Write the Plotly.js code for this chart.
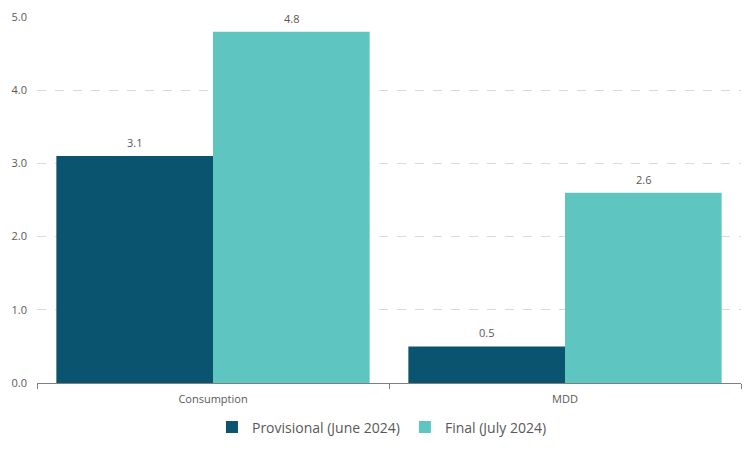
<!DOCTYPE html>
<html>
<head>
<meta charset="utf-8">
<script src="https://cdn.plot.ly/plotly-3.0.1.min.js"></script>
<style>
  html, body { margin: 0; padding: 0; background: #fff; }
  #chart { width: 756px; height: 450px; }
</style>
</head>
<body>
<div id="chart"></div>
<script>
    var CATEGORIES = ['Consumption', 'MDD'];
    var PROVISIONAL = [3.1, 0.5];
    var FINAL = [4.8, 2.6];
    var SERIES_NAMES = ['Provisional (June 2024)', 'Final (July 2024)'];

    var DARK = '#0b5470', LIGHT = '#5ec5c0', GREY = '#595959';
    var FAMILY = 'Open Sans, sans-serif';
    var BARGAP = 0.11;

    function bar(name, values, color) {
        return {
            type: 'bar', name: name, x: CATEGORIES, y: values,
            marker: { color: color },
            hoverinfo: 'skip',
        };
    }

    var traces = [
        bar(SERIES_NAMES[0], PROVISIONAL, DARK),
        bar(SERIES_NAMES[1], FINAL, LIGHT),
    ];

    // value labels above each bar, offset to the grouped bar centres
    var half = (1 - BARGAP) / 4;
    var annotations = [];
    [PROVISIONAL, FINAL].forEach(function (vals, s) {
        vals.forEach(function (v, i) {
            annotations.push({
                xref: 'x', yref: 'y', x: i + (s === 0 ? -half : half), y: v,
                text: v.toFixed(1), showarrow: false,
                xanchor: 'center', yanchor: 'bottom', yshift: 4,
                font: { family: FAMILY, size: 11, color: GREY },
            });
        });
    });

    var layout = {
        width: 756, height: 450,
        margin: { l: 37, r: 15, t: 17, b: 67 },
        paper_bgcolor: '#fff', plot_bgcolor: '#fff',
        font: { family: FAMILY, size: 11, color: GREY },
        barmode: 'group', bargap: BARGAP, bargroupgap: 0,
        annotations: annotations,
        xaxis: {
            type: 'category', showgrid: false, automargin: false,
            showline: true, linecolor: '#7f7f7f', linewidth: 1,
            ticks: 'outside', tickson: 'boundaries', ticklen: 5, tickcolor: '#7f7f7f',
            tickfont: { family: FAMILY, size: 11, color: GREY },
            ticklabelstandoff: 6,
        },
        yaxis: {
            range: [0, 5], dtick: 1, tickformat: '.1f', automargin: false,
            showgrid: true, gridcolor: '#d9d9d9', griddash: 'dash', gridwidth: 1,
            zeroline: false, showline: false, ticks: '',
            tickfont: { family: FAMILY, size: 11, color: GREY },
            ticklabelstandoff: 9,
        },
        showlegend: true,
        legend: {
            orientation: 'h', x: 0.49, xanchor: 'center',
            yref: 'container', y: 0.05, yanchor: 'middle',
            font: { family: FAMILY, size: 14, color: GREY },
            itemwidth: 30, traceorder: 'normal',
        },
    };

    Plotly.newPlot('chart', traces, layout, { displayModeBar: false, staticPlot: true });
</script>
</body>
</html>
